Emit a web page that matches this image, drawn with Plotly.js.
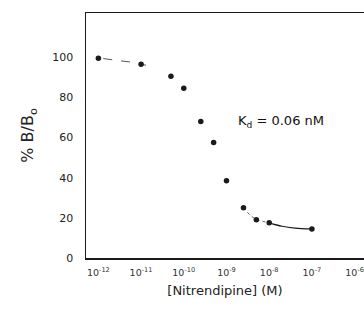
<!DOCTYPE html>
<html>
<head>
<meta charset="utf-8">
<script src="https://cdn.plot.ly/plotly-3.0.1.min.js"></script>
<style>html,body{margin:0;padding:0;background:#fff;}#chart{width:364px;height:311px;}</style>
</head>
<body>
<div id="chart"></div>
<script>
// Concentrations (M) and % B/B0
const concentration = [1e-12, 1e-11, 5e-11, 1e-10, 2.5e-10, 5e-10, 1e-9, 2.5e-9, 5e-9, 1e-8, 1e-7];
const percentBound  = [99.5, 96.5, 90.5, 84.5, 68, 57.5, 38.5, 25, 19, 17.5, 14.5];

// Visible pieces of the fitted curve
const fitDashX = [1.3e-12, 3e-12, 6e-12, 1.3e-11];
const fitDashY = [99.3, 98.5, 97.5, 96];
const fitDotX  = [2.5e-9, 3.5e-9, 5e-9, 1e-8];
const fitDotY  = [25, 21.5, 19, 17.5];
const fitSolidX = [1e-8, 2e-8, 4e-8, 1e-7];
const fitSolidY = [17.5, 15.8, 14.9, 14.5];

const tickVals  = [1e-12, 1e-11, 1e-10, 1e-9, 1e-8, 1e-7, 1e-6];
const tickText  = ['10<sup>-12</sup>','10<sup>-11</sup>','10<sup>-10</sup>','10<sup>-9</sup>','10<sup>-8</sup>','10<sup>-7</sup>','10<sup>-6</sup>'];
const yTicks = [0, 20, 40, 60, 80, 100];

const ink = '#1a1a1a';
const traces = [
  {x: fitDashX, y: fitDashY, mode: 'lines', line: {color: '#555', width: 1, dash: 'dash'}, hoverinfo: 'skip'},
  {x: fitDotX, y: fitDotY, mode: 'lines', line: {color: '#666', width: 1, dash: 'dot'}, hoverinfo: 'skip'},
  {x: fitSolidX, y: fitSolidY, mode: 'lines', line: {color: ink, width: 1.2, shape: 'spline'}, hoverinfo: 'skip'},
  {x: concentration, y: percentBound, mode: 'markers', marker: {color: ink, size: 5.5}}
];

const layout = {
  width: 364, height: 311,
  margin: {l: 86, r: 0, t: 13, b: 53},
  paper_bgcolor: '#fff', plot_bgcolor: '#fff',
  showlegend: false,
  font: {family: 'DejaVu Sans, sans-serif', color: ink},
  xaxis: {
    type: 'log', range: [-12.29, -5.78],
    tickvals: tickVals, ticktext: tickText,
    tickfont: {size: 9.5, color: '#333'},
    ticks: 'outside', ticklen: 5, tickcolor: 'rgba(0,0,0,0)',
    showgrid: false, zeroline: false,
    showline: true, linecolor: ink, linewidth: 1.5, mirror: true,
    title: {text: '[Nitrendipine] (M)', font: {size: 13, color: '#222'}, standoff: 9}
  },
  yaxis: {
    range: [0, 122],
    tickvals: yTicks,
    tickfont: {size: 11, color: '#222'},
    ticks: 'outside', ticklen: 9, tickcolor: 'rgba(0,0,0,0)',
    showgrid: false, zeroline: false,
    showline: true, linecolor: ink, linewidth: 1.5,
    title: {text: '% B/B<sub>o</sub>', font: {size: 16, color: '#222'}, standoff: 14}
  },
  annotations: [{
    x: -7.72, y: 68, xref: 'x', yref: 'y',
    text: 'K<sub>d</sub> = 0.06 nM', showarrow: false,
    xanchor: 'center', yanchor: 'middle',
    font: {size: 13, color: '#111'}
  }]
};

Plotly.newPlot('chart', traces, layout, {displayModeBar: false, staticPlot: true});
</script>
</body>
</html>
